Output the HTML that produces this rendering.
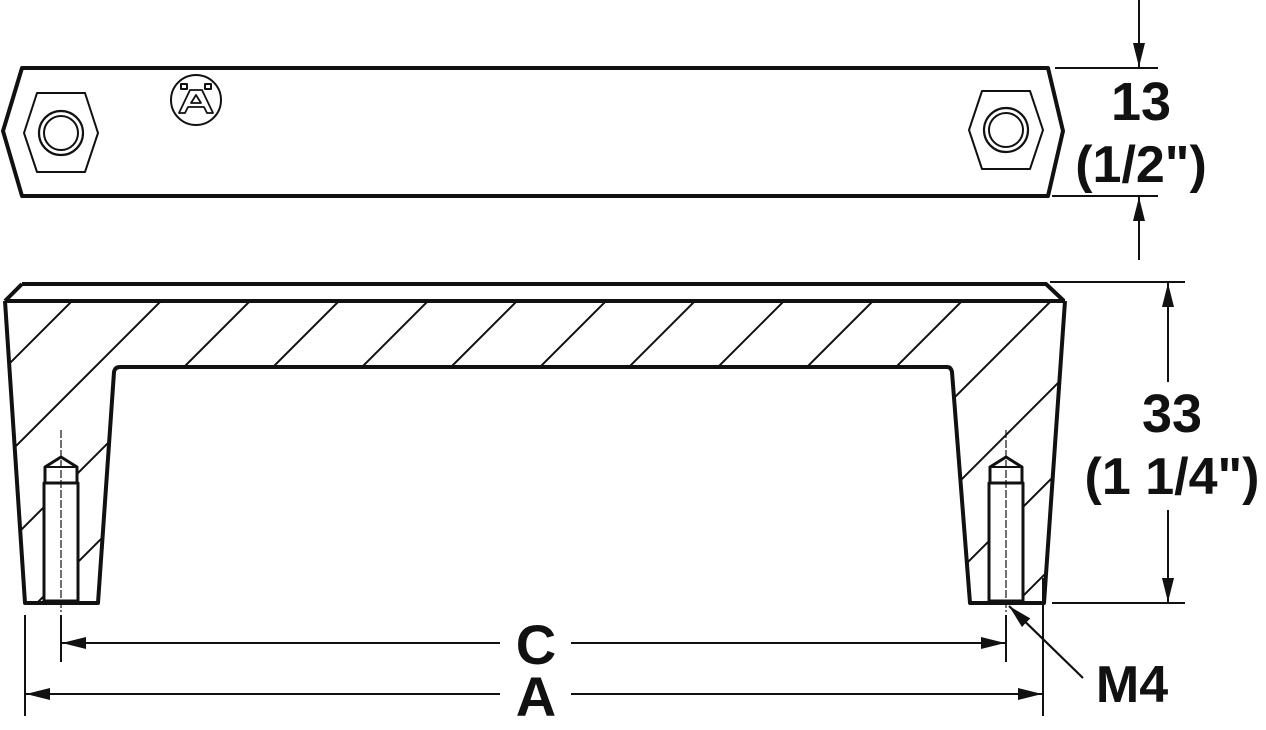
<!DOCTYPE html>
<html><head><meta charset="utf-8"><style>
html,body{margin:0;padding:0;background:#fff;width:1266px;height:730px;overflow:hidden;}
svg{display:block}
text{font-family:"Liberation Sans",Arial,sans-serif;font-weight:bold;fill:#111;}
</style></head><body>
<svg width="1266" height="730" viewBox="0 0 1266 730" xmlns="http://www.w3.org/2000/svg">
<defs>
<clipPath id="sec">
<path d="M5,302 L1065,302 L1044,603 L970,603 L951,367 L116,367 L98,603 L25,603 Z"/>
</clipPath>
<marker id="ar" viewBox="0 0 24 12" refX="24" refY="6" markerWidth="24" markerHeight="12" markerUnits="userSpaceOnUse" orient="auto">
<path d="M0,0 L24,6 L0,12 Z" fill="#111"/></marker>
</defs>
<g stroke="#111" fill="none" stroke-linejoin="round">
<path d="M22,68 L1048,68 L1063,131 L1048,196 L22,196 L3,131 Z" stroke-width="4"/>
<path d="M37,93 L85,93 L98,133 L85,172 L37,172 L24,133 Z" stroke-width="2"/>
<circle cx="61" cy="133" r="22" stroke-width="2.2"/>
<circle cx="61" cy="133" r="17" stroke-width="2"/>
<path d="M982,91 L1030,91 L1043,130 L1030,169 L982,169 L969,130 Z" stroke-width="2"/>
<circle cx="1006" cy="130" r="22" stroke-width="2.2"/>
<circle cx="1006" cy="130" r="17" stroke-width="2"/>
<circle cx="196" cy="100" r="25" stroke-width="2"/>
<path d="M190,90 L202,90 L213,113 L207,113 L204,107 L188,107 L185,113 L179,113 Z M196,95 L191,103 L201,103 Z" stroke-width="1.8"/>
<rect x="181" y="84" width="6" height="5" stroke-width="2"/>
<rect x="205" y="84" width="6" height="5" stroke-width="2"/>
<g clip-path="url(#sec)" stroke-width="2">
<path transform="translate(35,0)" d="M-300,371 L371,-300 M-300,460 L460,-300 M-300,549 L549,-300 M-300,638 L638,-300 M-300,727 L727,-300 M-300,816 L816,-300 M-300,905 L905,-300 M-300,994 L994,-300 M-300,1083 L1083,-300 M-300,1172 L1172,-300 M-300,1261 L1261,-300 M-300,1350 L1350,-300 M-300,1439 L1439,-300 M-300,1528 L1528,-300 M-300,1617 L1617,-300 M-300,1706 L1706,-300 M-300,1795 L1795,-300 M-300,1884 L1884,-300 M-300,1973 L1973,-300 M-300,2062 L2062,-300 M-300,2151 L2151,-300 M-300,2240 L2240,-300"/>
</g>
<g fill="#fff" stroke-width="3">
<path d="M45,483 L45,467 L61,457 L77,467 L77,483 Z"/>
<rect x="44" y="483" width="34" height="118"/>
<path d="M990,483 L990,467 L1006,457 L1022,467 L1022,483 Z"/>
<rect x="989" y="483" width="34" height="118"/>
</g>
<path d="M45,467 L77,467 M990,467 L1022,467" stroke-width="2"/>
<path d="M61,430 L61,612 M1006,430 L1006,612" stroke-width="1.2" stroke-dasharray="8,2"/>
<path d="M22,284 L1046,284 L1064,301 M22,284 L5,301" stroke-width="4"/>
<path d="M5,301 L1065,301" stroke-width="4"/>
<path d="M5,301 L25,603 L98,603 L114,372 Q115,367 120,367 L947,367 Q951,367 952,372 L970,603 L1044,603 L1065,301" stroke-width="4"/>
<path d="M1055,68 L1158,68 M1052,196 L1158,196" stroke-width="2"/>
<path d="M1139,0 L1139,67" stroke-width="2" marker-end="url(#ar)"/>
<path d="M1139,260 L1139,197" stroke-width="2" marker-end="url(#ar)"/>
<path d="M1050,282 L1185,282 M1052,603 L1185,603" stroke-width="2"/>
<path d="M1168,382 L1168,283" stroke-width="2" marker-end="url(#ar)"/>
<path d="M1168,510 L1168,602" stroke-width="2" marker-end="url(#ar)"/>
<path d="M61,615 L61,662 M1006,615 L1006,662 M25,615 L25,716 M1043,578 L1043,716" stroke-width="2"/>
<path d="M500,643 L62,643" stroke-width="2" marker-end="url(#ar)"/>
<path d="M571,643 L1005,643" stroke-width="2" marker-end="url(#ar)"/>
<path d="M500,694 L26,694" stroke-width="2" marker-end="url(#ar)"/>
<path d="M571,694 L1042,694" stroke-width="2" marker-end="url(#ar)"/>
<path d="M1083,678 L1009,606" stroke-width="2.2" marker-end="url(#ar)"/>
</g>
<text x="1141" y="120" font-size="54" text-anchor="middle">13</text>
<text x="1141" y="182" font-size="52" text-anchor="middle">(1/2")</text>
<text x="1172" y="432" font-size="54" text-anchor="middle">33</text>
<text x="1172" y="494" font-size="52" text-anchor="middle">(1 1/4")</text>
<text x="536" y="664" font-size="56" text-anchor="middle">C</text>
<text x="536" y="716" font-size="56" text-anchor="middle">A</text>
<text x="1132" y="702" font-size="52" text-anchor="middle">M4</text>
</svg>
</body></html>
